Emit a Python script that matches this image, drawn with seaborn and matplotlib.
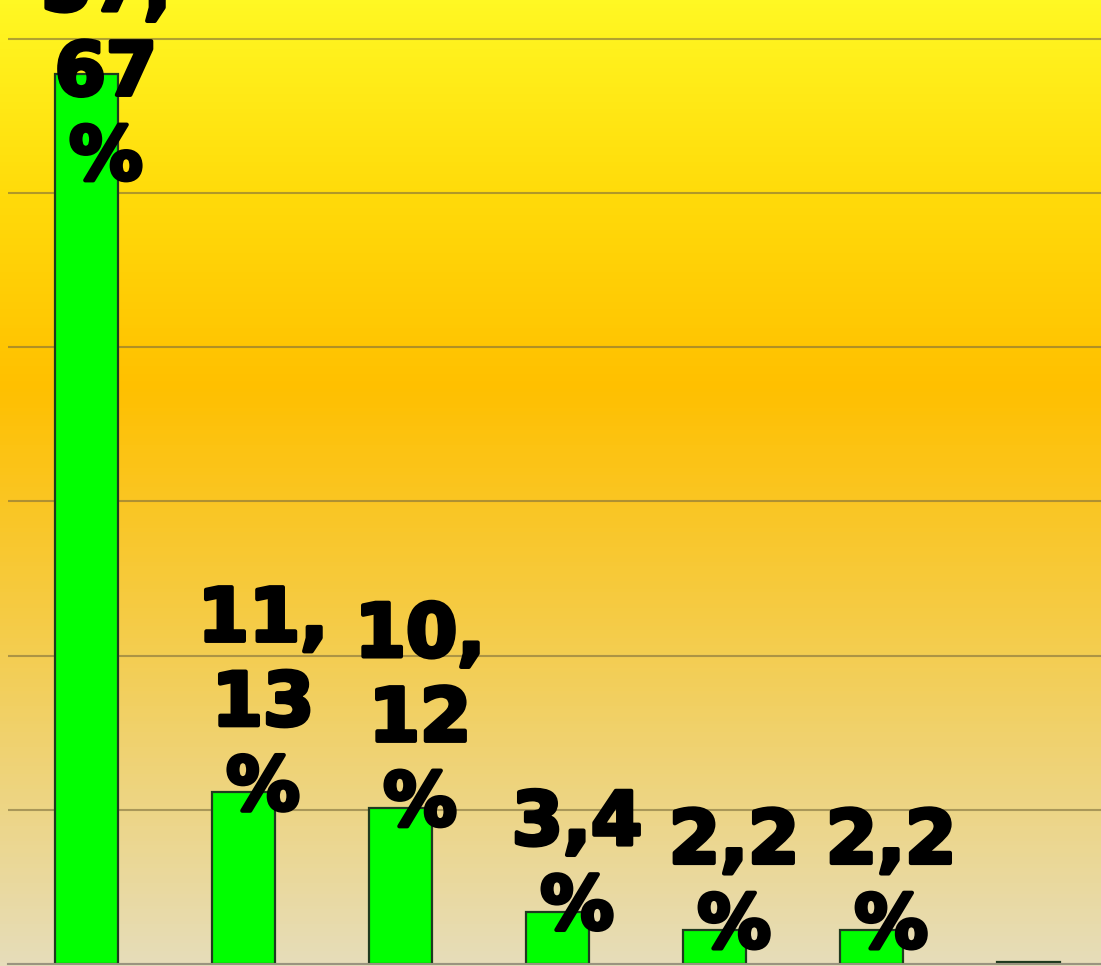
import numpy as np
import pandas as pd
import matplotlib.pyplot as plt
import matplotlib.colors as mcolors
import matplotlib.patheffects as pe
import seaborn as sns

sns.set_style("white")
plt.rcParams["font.family"] = ["DejaVu Sans"]

categories = ["A", "B", "C", "D", "E", "F", "G"]
values = [57.67, 11.13, 10.12, 3.4, 2.2, 2.2, 0.1]
labels = ["57,\n67\n%", "11,\n13\n%", "10,\n12\n%", "3,4\n%", "2,2\n%", "2,2\n%", ""]

df = pd.DataFrame({"cat": categories, "val": values})

fig = plt.figure(figsize=(11.01, 9.66), dpi=100)

# gradient background: yellow -> orange -> beige
bg = fig.add_axes([0, 0, 1, 1], zorder=0)
cmap = mcolors.LinearSegmentedColormap.from_list(
    "bg", [(0.0, "#FFF823"), (0.2, "#FFDB0A"), (0.4, "#FFC000"),
           (0.65, "#F5CC48"), (1.0, "#E6DDBA")])
grad = np.linspace(0, 1, 256).reshape(-1, 1)
bg.imshow(grad, aspect="auto", cmap=cmap, extent=[0, 1, 0, 1], origin="upper")
bg.axis("off")

ax = fig.add_axes([8 / 1101, 2 / 966, 1 - 8 / 1101, 1 - 2 / 966], zorder=1)
ax.patch.set_alpha(0)

sns.barplot(data=df, x="cat", y="val", color="#00FF00", width=0.4,
            edgecolor="#1f3a1f", linewidth=1.6, saturation=1, ax=ax, zorder=2)

ax.set_ylim(0, 62.5)
ax.set_xlim(-0.5, 6.46)
ax.set_yticks(np.arange(0, 61, 10))
ax.yaxis.grid(True, color="#7d6e3c", alpha=0.6, linewidth=1.5)
ax.set_axisbelow(True)
ax.tick_params(left=False, bottom=False, labelleft=False, labelbottom=False)
ax.set_xlabel("")
ax.set_ylabel("")
for s in ["left", "right", "top"]:
    ax.spines[s].set_visible(False)
ax.spines["bottom"].set_color("#9a9480")
ax.spines["bottom"].set_linewidth(1.5)

for i, (v, lab) in enumerate(zip(values, labels)):
    if not lab:
        continue
    # the tall bar's label sits lower so most of it stays in view
    ax.annotate(lab, xy=(i, min(v, 52)), xytext=(14, -24), textcoords="offset points",
                ha="center", va="bottom", fontsize=53, fontweight="bold",
                linespacing=1.2, color="black", zorder=3, annotation_clip=False,
                path_effects=[pe.withStroke(linewidth=3, foreground="black")])

plt.savefig("out.png", dpi=100)
